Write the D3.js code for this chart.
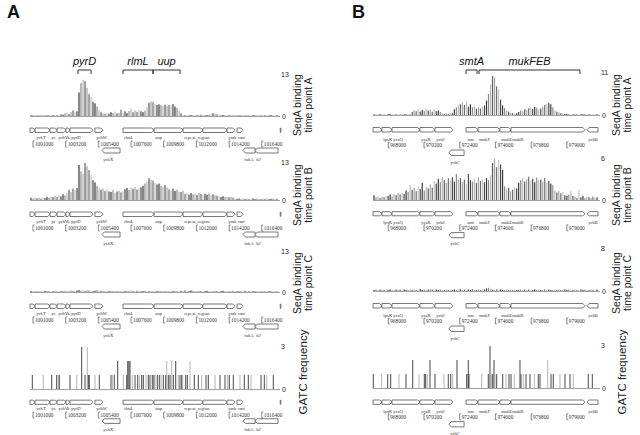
<!DOCTYPE html>
<html><head><meta charset="utf-8">
<script src="https://cdn.jsdelivr.net/npm/d3@7"></script>
<style>body{margin:0;background:#fff}svg{display:block}</style>
</head><body>
<svg id="c" width="640" height="435"></svg>
<script>
// ---------------- DATA ----------------
const panelLetters = ["A", "B"];
const trackTitles = [["SeqA binding", "time point A"], ["SeqA binding", "time point B"], ["SeqA binding", "time point C"], ["GATC frequency"]];

// Panel A (genome window, bp)
const domainA = [1000800, 1017490];
const maxValsA = [13, 13, 13, 3];
const coordTicksA = [1001000, 1003200, 1005400, 1007600, 1009800, 1012000, 1014200, 1016400];
const seqA_A_tpA = [0.2,0.3,0.2,0.2,0.3,0.2,0.3,0.2,0.2,0.3,0.2,0.3,0.2,0.3,0.3,
  0.5,0.4,0.8,1.0,0.6,1.3,1.8,1.2,
  1.5,7.5,10.5,11.5,11.0,9.0,7.0,6.0,4.5,4.0,3.0,2.0,1.2,
  0.8,0.6,1.0,0.7,1.2,0.9,1.4,0.8,1.0,2.0,1.1,1.5,0.9,1.6,2.3,1.2,1.8,1.3,2.0,1.5,1.2,1.7,
  2.8,4.2,4.6,4.4,
  3.8,3.5,3.7,3.4,3.3,3.6,3.2,3.5,3.4,3.8,3.0,2.6,1.8,
  0.8,
  0.2,0.3,0.2,0.2,0.3,0.2,0.2,0.3,0.2,0.4,0.3,0.2,0.3,0.4,
  0.6,0.9,0.7,0.5,0.4,
  0.2,0.3,0.2,0.2,0.3,0.2,0.2,0.3,0.2,0.2,0.3,0.2,0.2,0.3,0.2,0.2,0.3,0.2,0.2,0.3,0.2,0.2,0.3,0.2,0.2,0.3,0.2,0.2,0.3];
const seqA_A_tpB = [0.8,0.5,1.0,0.6,0.8,0.5,0.9,0.7,1.1,0.8,
  1.2,1.0,1.5,1.1,1.8,1.3,2.0,1.6,2.4,
  3.6,2.8,4.0,3.5,4.2,
  12.3,10.0,9.2,13.0,11.8,10.5,8.8,7.0,6.2,5.0,
  4.2,3.6,4.0,3.2,3.8,3.0,
  2.8,3.4,2.6,3.0,3.3,2.7,3.2,
  3.8,4.2,3.5,4.4,3.9,4.6,3.7,4.1,4.5,5.0,
  5.8,6.5,7.7,7.0,6.8,
  6.0,5.5,5.8,5.0,4.6,5.2,4.4,
  3.8,3.4,4.0,3.2,3.6,3.0,2.8,3.3,
  2.2,2.6,1.9,2.4,2.0,2.3,1.8,2.5,2.1,1.7,2.2,1.9,2.3,1.6,2.0,1.8,1.5,
  1.4,1.1,1.3,1.0,1.2,0.9,1.1,0.8,
  0.6,0.4,0.5,0.3,0.6,0.4,0.5,0.3,0.4,0.6,0.3,0.5,0.4,0.3,0.5,0.4,0.6,0.3,0.4,0.5,0.3,0.4];
const seqA_A_tpC = [0.3,0.2,0.4,0.2,0.3,0.2,0.3,0.4,0.2,0.3,0.2,0.3,0.4,0.2,0.3,0.3,0.2,0.4,0.3,0.2,0.5,0.3,0.4,0.5,
  0.6,0.4,0.5,0.3,0.6,0.4,0.5,0.3,0.4,0.6,0.3,0.4,0.3,0.2,0.4,0.3,0.2,0.3,0.4,0.2,0.3,0.2,0.4,0.3,
  0.2,0.3,0.5,0.3,0.2,0.4,0.3,0.2,0.3,0.4,0.2,0.3,0.3,0.2,0.4,0.3,0.2,0.3,0.4,0.2,0.3,0.2,0.4,0.3,
  0.2,0.3,0.2,0.4,0.3,0.5,0.4,0.3,0.5,0.4,0.3,0.2,0.4,0.3,0.2,0.3,0.4,0.2,0.3,0.2,0.4,0.3,0.2,0.3,
  0.4,0.2,0.3,0.2,0.3,0.4,0.2,0.3,0.2,0.3,0.2,0.4,0.2,0.3,0.2,0.3,0.2,0.2,0.3,0.2,0.3,0.2,0.2,0.3,0.2,0.2,0.3,0.2];
const gatcA = [[1000955,1],[1001695,1],[1002260,1],[1002597,1],[1002705,1],[1002772,1],[1003492,1],[1003943,1],
  [1004279,3],[1004502,1],[1004656,3],[1004724,1],[1004791,1],[1005175,1],[1005464,1],[1006251,1],[1006339,1],
  [1006473,1],[1006702,2],[1007079,1],[1007308,1],[1007375,2],[1007416,2],[1007463,2],[1007530,2],[1007685,1],
  [1007867,1],[1008048,1],[1008156,1],[1008317,1],[1008425,1],[1008607,1],[1008762,1],[1008876,1],[1008943,1],
  [1009058,1],[1009145,1],[1009213,1],[1009367,1],[1009502,1],[1009616,1],[1009771,1],[1009933,1],[1010000,2],
  [1010108,1],[1010222,1],[1010336,2],[1010444,1],[1010606,2],[1010781,1],[1010895,1],[1011009,1],[1011077,1],
  [1011279,1],[1011386,1],[1011568,2],[1011857,1],[1012127,1],[1012355,1],[1012645,1],[1012800,1],[1013251,1],
  [1013587,1],[1013924,1],[1014105,1],[1014213,1],[1014482,1],[1014933,1],[1015222,1],[1015492,1],[1015673,1],
  [1016346,1],[1016568,1],[1016730,1],[1017174,1]];
const genesA = [
  {name:"", start:1000800, end:1001140, strand:1, row:0},
  {name:"ychT", start:1001140, end:1002150, strand:1, row:0},
  {name:"yc", start:1002150, end:1002620, strand:1, row:0},
  {name:"ychV", start:1002620, end:1003220, strand:1, row:0},
  {name:"k", start:1003220, end:1003490, strand:1, row:0},
  {name:"pyrD", start:1003490, end:1005040, strand:1, row:0},
  {name:"ychW", start:1005170, end:1005710, strand:1, row:0},
  {name:"rlmL", start:1007060, end:1009150, strand:1, row:0},
  {name:"uup", start:1009150, end:1011100, strand:1, row:0},
  {name:"repeat_region", start:1011100, end:1012440, strand:1, row:0},
  {name:"", start:1012440, end:1014060, strand:1, row:0},
  {name:"ymb", start:1014060, end:1014600, strand:1, row:0},
  {name:"rmf", start:1014730, end:1015140, strand:1, row:0},
  {name:"", start:1017640, end:1017700, strand:1, row:0},
  {name:"ychX", start:1005650, end:1006860, strand:-1, row:1},
  {name:"fabA", start:1015140, end:1015950, strand:-1, row:1},
  {name:"b2", start:1015950, end:1017490, strand:-1, row:1}];
const regionsA = [
  {name:"pyrD", start:1004030, end:1004910},
  {name:"rlmL", start:1007060, end:1009080},
  {name:"uup", start:1009080, end:1010900}];

// Panel B
const domainB = [967060, 980920];
const maxValsB = [11, 6, 8, 3];
const coordTicksB = [968000, 970200, 972400, 974600, 976800, 979000];
const seqA_B_tpA = [0.2,0.1,0.2,0.3,0.2,0.1,0.2,0.2,0.3,0.1,0.2,0.2,0.1,0.2,0.3,0.2,0.2,0.1,0.3,
  0.8,1.2,1.0,1.5,0.9,1.3,1.1,1.6,1.2,1.4,0.9,1.5,1.0,1.2,0.8,
  0.5,0.3,0.4,0.3,0.6,0.5,
  1.5,2.0,2.5,2.8,3.2,2.6,3.4,2.2,2.8,
  2.0,2.3,1.6,2.0,1.7,2.2,2.5,3.8,
  5.5,8.0,10.2,9.8,7.5,6.8,4.0,
  2.5,1.8,1.2,0.9,0.6,0.5,0.4,
  0.5,0.8,1.2,1.0,1.5,1.3,
  1.8,2.0,1.6,2.1,1.9,1.5,1.7,2.2,2.6,2.9,3.2,2.8,2.0,
  1.2,0.9,0.7,0.5,0.4,0.3,0.3,
  0.2,0.1,0.2,0.3,0.2,0.1,0.2,0.2,0.3,0.1,0.2,0.2,0.1,0.2,0.2];
const seqA_B_tpB = [0.7,0.4,0.6,0.3,0.5,0.4,0.6,
  0.6,0.8,0.5,0.9,0.7,1.0,0.8,1.1,0.9,1.4,1.2,
  2.2,1.5,1.8,1.3,2.0,1.6,2.5,1.4,1.9,1.7,2.3,1.8,
  2.8,2.4,3.1,2.6,3.4,2.9,2.5,3.2,2.8,3.3,2.7,3.8,3.0,3.2,
  2.6,3.0,2.4,3.8,2.9,2.7,3.1,2.5,3.3,2.8,3.0,2.6,3.2,2.9,3.6,
  5.4,6.0,4.8,5.8,5.2,4.4,
  2.0,1.6,1.8,1.3,1.5,1.9,1.7,
  2.5,2.9,3.2,2.7,3.0,3.4,2.8,3.1,2.6,3.3,2.9,3.0,2.7,3.2,2.5,2.8,2.4,2.2,
  1.4,1.1,1.3,1.0,1.2,
  0.7,0.6,0.8,1.3,0.6,
  0.5,0.3,1.5,0.4,0.6,0.3,0.5,0.4,0.3,0.5,0.3,0.4];
const seqA_B_tpC = [0.2,0.3,0.2,0.3,0.2,0.2,0.3,0.2,0.3,0.2,0.2,0.3,0.2,0.3,0.2,0.3,0.2,0.2,0.3,0.2,
  0.3,0.2,0.3,0.4,0.2,0.3,0.2,0.3,0.4,0.3,0.2,0.3,0.2,0.3,0.2,0.2,0.3,0.2,0.3,0.2,
  0.3,0.2,0.3,0.4,0.2,0.3,0.2,0.3,0.2,0.4,0.3,0.2,0.3,0.2,0.4,0.3,0.5,0.6,0.4,0.3,
  0.2,0.3,0.2,0.3,0.2,0.2,0.3,0.2,0.3,0.2,0.3,0.2,0.2,0.3,0.2,0.3,0.2,0.3,0.2,0.2,
  0.3,0.2,0.3,0.2,0.2,0.3,0.2,0.3,0.2,0.2,0.3,0.2,0.3,0.2,0.2,0.3,0.2,0.3,0.2,0.2,
  0.3,0.2,0.2,0.3,0.2,0.3,0.2,0.2,0.3,0.2,0.2,0.3];
const gatcB = [[967078,1],[967596,1],[967966,1],[968150,1],[968662,1],[969093,1],[969506,2],[969894,1],
  [970220,1],[970306,1],[970405,1],[970571,2],[970879,1],[971434,1],[971698,1],[971846,1],[971970,1],
  [972234,2],[972832,1],[972894,1],[972930,2],[972974,1],[973756,1],[974162,1],[974267,3],[974372,1],
  [974434,1],[974514,2],[974575,1],[974680,1],[975050,1],[975253,1],[975438,1],[975561,1],[975764,1],
  [976115,2],[976177,1],[976318,1],[976485,1],[976731,1],[976996,1],[977242,1],[977347,1],[977822,2],
  [978025,1],[978166,1],[978579,1],[978887,1],[979195,1],[979398,1],[980322,1],[980569,1]];
const genesB = [
  {name:"", start:967060, end:967610, strand:1, row:0},
  {name:"lpxK", start:967610, end:968230, strand:1, row:0},
  {name:"ycaQ", start:968230, end:969950, strand:1, row:0},
  {name:"ycaR", start:969950, end:970880, strand:1, row:0},
  {name:"ycbJ", start:970880, end:971990, strand:1, row:0},
  {name:"smt", start:972790, end:973530, strand:1, row:0},
  {name:"mukF", start:973530, end:974880, strand:1, row:0},
  {name:"mukE", start:974880, end:975560, strand:1, row:0},
  {name:"mukB", start:975560, end:980120, strand:1, row:0},
  {name:"ycbB", start:980240, end:980920, strand:-1, row:0},
  {name:"ycbC", start:971740, end:972670, strand:-1, row:1}];
const regionsB = [
  {name:"smtA", start:972790, end:973470},
  {name:"mukFEB", start:973590, end:979810}];

// ---------------- LAYOUT ----------------
const panels = [
  {letter:panelLetters[0], letterX:7, domain:domainA, x0:30, x1:278, maxVals:maxValsA,
   bases:[116,200,292,389], tops:[75,163,252,347], series:[seqA_A_tpA, seqA_A_tpB, seqA_A_tpC], gatc:gatcA,
   genes:genesA, regions:regionsA, ticks:coordTicksA, titleX:303, squeeze:[1,1,1,0.93],
   off:{boxT:12, boxB:16.5, name:21, coord:28, lboxT:32, lboxB:37, lname:43}},
  {letter:panelLetters[1], letterX:352, domain:domainB, x0:373, x1:598, maxVals:maxValsB,
   bases:[115,200,291,388], tops:[73,159,249,346], series:[seqA_B_tpA, seqA_B_tpB, seqA_B_tpC], gatc:gatcB,
   genes:genesB, regions:regionsB, ticks:coordTicksB, titleX:622, squeeze:[1,0.93,1,0.96],
   off:{boxT:12.5, boxB:17, name:24, coord:30, lboxT:35, lboxB:40.5, lname:47}}
];
const titleCenters = [105, 195, 283, 372];
const barShades = ["#3a3a3a","#8c8c8c","#b8b8b8","#5c5c5c","#a4a4a4","#6e6e6e","#c4c4c4","#4a4a4a"];
const fSans = "Liberation Sans, Arial, sans-serif";
const fSerif = "Liberation Serif, Times New Roman, serif";

const svg = d3.select("#c");
svg.append("rect").attr("width",640).attr("height",435).attr("fill","#fff");

panels.forEach(p => {
  const g = svg.append("g");
  const x = d3.scaleLinear().domain(p.domain).range([p.x0, p.x1]);
  g.append("text").attr("x", p.letterX).attr("y", 18).text(p.letter)
    .attr("font-family",fSans).attr("font-weight","bold").attr("font-size",18).attr("fill","#111");

  // region brackets
  p.regions.forEach(r => {
    const xa = x(r.start), xb = x(r.end);
    g.append("path").attr("d", `M${xa},74V70H${xb}V74`).attr("fill","none").attr("stroke","#333").attr("stroke-width",1);
    g.append("text").attr("x",(xa+xb)/2).attr("y",65).attr("text-anchor","middle").text(r.name)
      .attr("font-family",fSans).attr("font-style","italic").attr("font-size",11).attr("fill","#111");
  });

  p.bases.forEach((base, t) => {
    const top = p.tops[t];
    const y = d3.scaleLinear().domain([0, p.maxVals[t]]).range([base, top]);
    g.append("line").attr("x1",p.x0).attr("x2",p.x1+2).attr("y1",base+0.5).attr("y2",base+0.5)
      .attr("stroke","#888").attr("stroke-width",0.8);
    if (t < 3) {
      const data = p.series[t];
      const xb = d3.scaleLinear().domain([0, data.length]).range([p.x0, p.x1]);
      g.selectAll(null).data(data).enter().append("rect")
        .attr("x",(d,i)=>xb(i+0.5)-0.6).attr("width",1.2)
        .attr("y",d=>y(d)).attr("height",d=>base-y(d))
        .attr("fill",(d,i)=>barShades[i%barShades.length]);
    } else {
      g.selectAll(null).data(p.gatc).enter().append("line")
        .attr("x1",d=>x(d[0])).attr("x2",d=>x(d[0]))
        .attr("y1",base).attr("y2",d=>y(d[1]))
        .attr("stroke",(d,i)=> (i%3===1) ? "#aaa" : "#333").attr("stroke-width",0.9);
    }
    g.append("text").attr("x",p.x1+3).attr("y",top+2).text(p.maxVals[t])
      .attr("font-family",fSans).attr("font-size",7).attr("fill","#222");
    g.append("text").attr("x",p.x1+4).attr("y",base+2.5).text(0)
      .attr("font-family",fSans).attr("font-size",7).attr("fill","#222");

    const lines = trackTitles[t];
    const tg = g.append("g").attr("transform",`translate(${p.titleX},${titleCenters[t]}) rotate(-90)`);
    lines.forEach((ln, k) => {
      const dy = (k - (lines.length-1)/2) * 10.5 + 3.5;
      tg.append("text").attr("x",0).attr("y",dy).attr("text-anchor","middle").text(ln)
        .attr("font-family",fSans).attr("font-size", lines.length===1 ? 11.5 : 10.5).attr("fill","#222");
    });

    // gene track
    const s = p.squeeze[t];
    const o = {};
    Object.keys(p.off).forEach(k => o[k] = p.off[k] * s);
    p.genes.forEach(gn => {
      const xa = x(gn.start), xe = x(gn.end);
      const yt = base + (gn.row ? o.lboxT : o.boxT), yb = base + (gn.row ? o.lboxB : o.boxB), ym = (yt+yb)/2;
      const a = Math.min(2.2, (xe-xa)*0.5);
      const pts = gn.strand > 0
        ? [[xa,yt],[xe-a,yt],[xe,ym],[xe-a,yb],[xa,yb]]
        : [[xa,ym],[xa+a,yt],[xe,yt],[xe,yb],[xa+a,yb]];
      g.append("polygon").attr("points",pts.map(q=>q.join(",")).join(" "))
        .attr("fill","#fff").attr("stroke","#555").attr("stroke-width",0.8);
      if (gn.name) {
        const ty = base + (gn.row ? o.lname : o.name) + 1.6;
        g.append("text").attr("x",xa+1.2).attr("y",ty).text(gn.name)
          .attr("font-family",fSerif).attr("font-size",4.6).attr("fill","#333");
      }
    });
    p.ticks.forEach(tk => {
      const xt = x(tk), yc = base + o.coord;
      g.append("path").attr("d",`M${xt+1.5},${yc-3}H${xt}V${yc+3}H${xt+1.5}`).attr("fill","none")
        .attr("stroke","#555").attr("stroke-width",0.7);
      g.append("text").attr("x",xt+2).attr("y",yc+1.8).text(tk)
        .attr("font-family",fSerif).attr("font-size",5.3).attr("fill","#333");
    });
  });
});
</script>
</body></html>
